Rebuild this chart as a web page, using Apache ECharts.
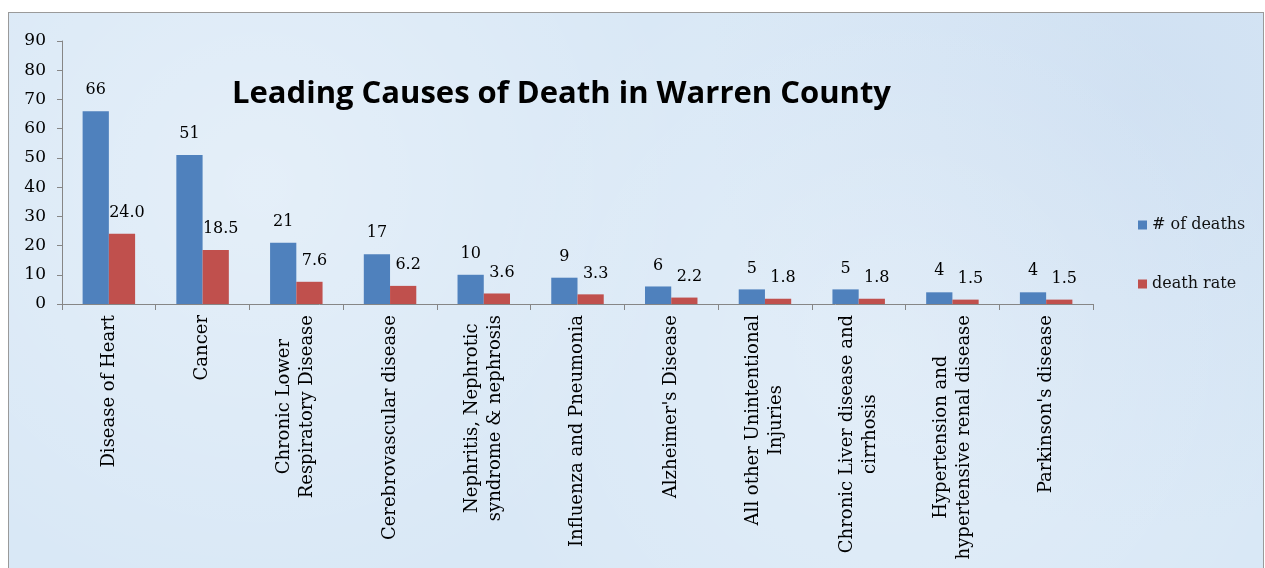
<!DOCTYPE html>
<html>
<head>
<meta charset="utf-8">
<script src="https://cdn.jsdelivr.net/npm/echarts@6/dist/echarts.min.js"></script>
<style>
  html, body { margin: 0; padding: 0; background: #ffffff; }
  .frame {
    position: absolute; left: 8px; top: 12px; width: 1254px; height: 570px;
    border: 1px solid #9a9a9a;
    background:
      radial-gradient(circle at 20% 30%, rgba(255,255,255,0.3), rgba(255,255,255,0) 40%),
      radial-gradient(circle at 70% 60%, rgba(255,255,255,0.25), rgba(255,255,255,0) 45%),
      radial-gradient(circle at 90% 15%, rgba(190,210,235,0.35), rgba(190,210,235,0) 35%),
      #d9e8f6;
  }
  #chart { position: absolute; left: 0; top: 0; width: 1265px; height: 568px; }
</style>
</head>
<body>
<div class="frame"></div>
<div id="chart"></div>
<script>
// categories (line breaks as in the original labels)
const causes = [
  'Disease of Heart',
  'Cancer',
  'Chronic Lower\nRespiratory Disease',
  'Cerebrovascular disease',
  'Nephritis, Nephrotic\nsyndrome & nephrosis',
  'Influenza and Pneumonia',
  "Alzheimer's Disease",
  'All other Unintentional\nInjuries',
  'Chronic Liver disease and\ncirrhosis',
  'Hypertension and\nhypertensive renal disease',
  "Parkinson's disease"
];
const deaths = [66, 51, 21, 17, 10, 9, 6, 5, 5, 4, 4];
const deathRate = [24.0, 18.5, 7.6, 6.2, 3.6, 3.3, 2.2, 1.8, 1.8, 1.5, 1.5];

const serif = '"DejaVu Serif", "Liberation Serif", serif';

let chart = echarts.init(document.getElementById('chart'));
chart.setOption({
  animation: false,
  title: {
    text: 'Leading Causes of Death in Warren County',
    left: 227,
    top: 74,
    textStyle: { fontFamily: '"Open Sans", Lato, sans-serif', fontWeight: 'bold', fontSize: 31, color: '#000' }
  },
  legend: {
    orient: 'vertical',
    left: 1133,
    top: 212,
    itemWidth: 9,
    itemHeight: 9,
    itemGap: 43,
    icon: 'rect',
    textStyle: { fontFamily: serif, fontSize: 16, color: '#111' },
    data: ['# of deaths', 'death rate']
  },
  grid: { left: 62, right: 172, top: 41, bottom: 264 },
  xAxis: {
    type: 'category',
    data: causes,
    axisLine: { lineStyle: { color: '#868686' } },
    axisTick: { show: true, length: 6, lineStyle: { color: '#868686' } },
    axisLabel: {
      interval: 0,
      rotate: 90,
      margin: 11,
      lineHeight: 23,
      color: '#000',
      fontFamily: serif,
      fontSize: 18,
      formatter: function (v) {
        return v.split('\n').map(function (s) { return '{c|' + s + '}'; }).join('\n');
      },
      rich: { c: { align: 'center', fontFamily: serif, fontSize: 18, lineHeight: 23, color: '#000' } }
    }
  },
  yAxis: {
    type: 'value',
    min: 0,
    max: 90,
    interval: 10,
    splitLine: { show: false },
    axisLine: { show: true, lineStyle: { color: '#868686' } },
    axisTick: { show: true, length: 5, lineStyle: { color: '#868686' } },
    axisLabel: { margin: 16, color: '#000', fontFamily: serif, fontSize: 17 }
  },
  series: [
    {
      name: '# of deaths',
      type: 'bar',
      data: deaths,
      barWidth: '28%',
      barGap: '0%',
      itemStyle: { color: '#4f81bd' },
      label: { show: true, position: 'top', distance: 13, fontFamily: serif, fontSize: 16, color: '#000' }
    },
    {
      name: 'death rate',
      type: 'bar',
      data: deathRate,
      barWidth: '28%',
      itemStyle: { color: '#c0504d' },
      label: {
        show: true, position: 'top', distance: 13, offset: [5, 0],
        fontFamily: serif, fontSize: 16, color: '#000',
        formatter: function (p) { return p.value.toFixed(1); }
      }
    }
  ]
});
</script>
</body>
</html>
